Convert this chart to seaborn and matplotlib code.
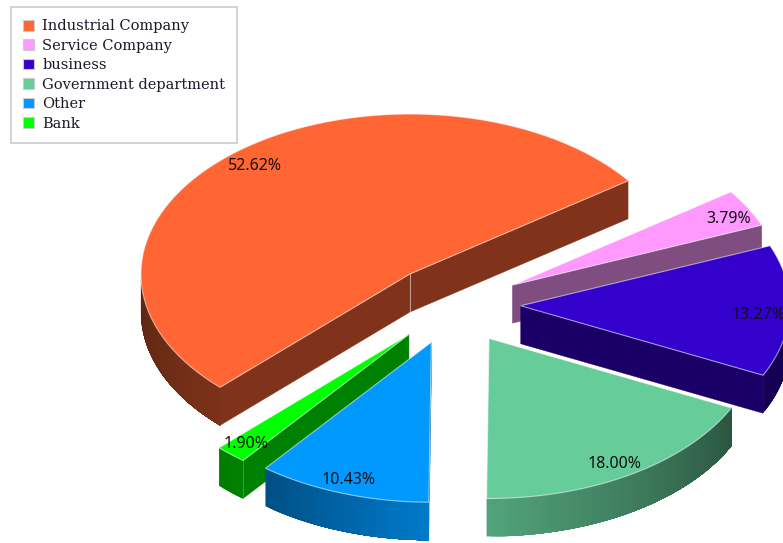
import numpy as np
import matplotlib
matplotlib.use('Agg')
import matplotlib.pyplot as plt
from matplotlib.patches import Patch
import seaborn as sns

# data, clockwise from the start of the first slice
labels = ['Industrial Company', 'Service Company', 'business',
          'Government department', 'Other', 'Bank']
shares = [52.62, 3.79, 13.27, 18.00, 10.43, 1.90]
colors = ['#FF6633', '#FF99FF', '#3300CC', '#66CC99', '#0099FF', '#00FF00']

# layout of the pie, in pixels
CX, CY = 453.5, 304.5
RX, RY = 269, 160
DEPTH = 38
EXPLODE = 0.25
START = 225.1
label_r = [0.9, 0.91, 0.885, 0.9, 0.9, 0.9]
LABEL_TURN = 0.7
LABEL_DROP = 2.5

sns.set_theme(style='white')
palette = sns.color_palette(colors)


def arc(x0, y0, a1, a2, n=80):
    t = np.radians(np.linspace(a1, a2, n))
    return x0 + RX * np.cos(t), y0 - RY * np.sin(t)


def shade_for(angle):
    # lighting of the outer wall, brightest towards the viewer
    a = (angle + 180) % 360 - 180
    return np.interp(a, [-180, -130, -90, -26, 0], [0.36, 0.5, 0.8, 0.42, 0.38])


fig = plt.figure(figsize=(7.83, 5.43), dpi=100)
ax = fig.add_axes([0, 0, 1, 1])
ax.set_xlim(0, 783)
ax.set_ylim(543, 0)
ax.axis('off')

# work out the slices
fracs = np.array(shares) / sum(shares)
ends = START - np.cumsum(fracs) * 360
starts = ends + fracs * 360
slices = []
for i in range(len(shares)):
    a2, a1 = starts[i], ends[i]
    mid = np.radians((a1 + a2) / 2)
    x0 = CX + EXPLODE * RX * np.cos(mid)
    y0 = CY - EXPLODE * RY * np.sin(mid)
    slices.append((y0, x0, a1, a2, mid, palette[i], shares[i], label_r[i]))

edge = (1, 1, 1, 0.55)
z = 1  # painter's order, everything goes up one step
for y0, x0, a1, a2, mid, col, share, lr in sorted(slices, key=lambda s: s[0]):
    dark = tuple(c * 0.5 for c in col)

    # flat cut walls
    seen1 = np.cos(np.radians(a1)) > 0
    seen2 = np.cos(np.radians(a2)) < 0
    for ang, seen in ((a1, seen1), (a2, seen2)):
        if seen:
            ex, ey = arc(x0, y0, ang, ang, 1)
            ax.fill([x0, ex[0], ex[0], x0],
                    [y0, ey[0], ey[0] + DEPTH, y0 + DEPTH],
                    facecolor=dark, edgecolor=dark, lw=0.3, zorder=z)
            z += 1
            ax.plot([ex[0], ex[0]], [ey[0], ey[0] + DEPTH], color=edge, lw=0.7, zorder=z)
            z += 1
    if seen1 and seen2:  # the two walls meet at the apex
        ax.plot([x0, x0], [y0, y0 + DEPTH], color=edge, lw=0.7, zorder=z)
        z += 1

    # outer wall: each strip runs to the end of the wall, so no seams show
    wall_start = a1
    wall_end = a2
    if a2 > 180:  # the orange slice only shows from 180 on
        wall_start = 180
    if a1 < 0 < a2:
        wall_end = 0
    if a1 < 180 and a2 <= 180 and a1 >= 0:
        wall_end = wall_start  # back slices, nothing to see
    steps = np.arange(wall_start, wall_end, 1.0)
    for s1 in steps:
        sx, sy = arc(x0, y0, s1, wall_end, 60)
        c = tuple(v * shade_for(s1 + 0.5) for v in col)
        ax.fill(np.r_[sx, sx[::-1]], np.r_[sy, sy[::-1] + DEPTH],
                facecolor=c, edgecolor='none', zorder=z)
        z += 1

    # top of the slice
    tx, ty = arc(x0, y0, a1, a2)
    ax.fill(np.r_[x0, tx], np.r_[y0, ty], facecolor=col,
            edgecolor=edge, lw=0.8, joinstyle='miter', zorder=z)
    z += 1

# value labels go on top of every slice
for y0, x0, a1, a2, mid, col, share, lr in slices:
    m = mid - np.radians(LABEL_TURN)
    ax.text(x0 + lr * RX * np.cos(m), y0 - lr * RY * np.sin(m) + LABEL_DROP,
            f'{share:.2f}%', ha='center', va='center', color='#111111',
            fontsize=11.5, family='Noto Sans', clip_on=True, zorder=z)

handles = [Patch(facecolor=c, edgecolor='#cccccc', lw=0.8) for c in palette]
leg = ax.legend(handles, labels, loc='upper left',
                bbox_to_anchor=(11 / 783, 1 - 7 / 543), borderaxespad=0,
                prop={'family': 'DejaVu Serif', 'size': 10.5},
                frameon=True, fancybox=False, edgecolor='#cccccc',
                framealpha=1, handlelength=0.75, handleheight=0.75,
                handletextpad=0.55, labelspacing=0.375, borderpad=0.84)
leg.set_zorder(z + 1)
leg.get_frame().set_linewidth(1.2)
for t in leg.get_texts():
    t.set_color('#1a1a2a')

fig.savefig('out.png', dpi=100, facecolor='white')
